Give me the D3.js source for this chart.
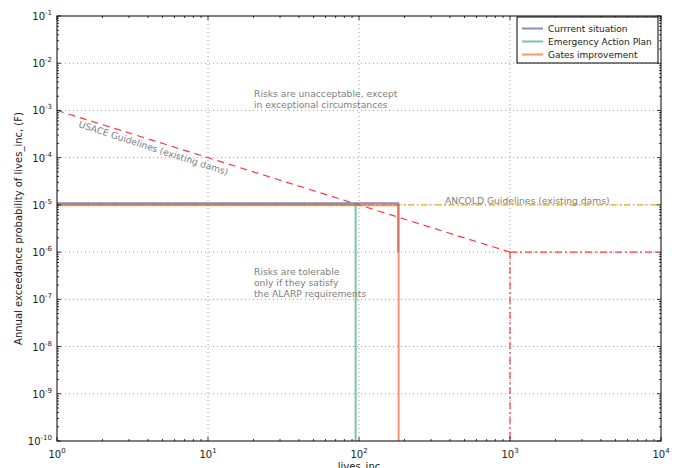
<!DOCTYPE html>
<html>
<head>
<meta charset="utf-8">
<title>F-N chart</title>
<script src="https://d3js.org/d3.v7.min.js"></script>
<style>
  body { margin: 0; background: #fff; }
  text { font-family: "DejaVu Sans", sans-serif; }
</style>
</head>
<body>
<svg id="chart" width="679" height="468"></svg>
<script>
// series: lives (x) vs annual exceedance probability (y)
var currentX = [1, 182, 182];
var currentY = [1.08e-5, 1.08e-5, 1e-6];
var emergencyX = [1, 95, 95];
var emergencyY = [1.03e-5, 1.03e-5, 1e-10];
var gatesX = [1, 183, 183];
var gatesY = [0.98e-5, 0.98e-5, 1e-10];

// guideline lines
var usaceX = [1, 1000];
var usaceY = [1e-3, 1e-6];
var usaceTailX = [1000, 10000];
var usaceTailY = [1e-6, 1e-6];
var usaceDropX = [1000, 1000];
var usaceDropY = [1e-6, 1e-10];
var ancoldX = [1, 10000];
var ancoldY = [1e-5, 1e-5];

var xTickExp = [0, 1, 2, 3, 4];
var yTickExp = [-1, -2, -3, -4, -5, -6, -7, -8, -9, -10];

var seriesNames = ['Currrent situation', 'Emergency Action Plan', 'Gates improvement'];
var colors = ['#4e5fad', '#4ca684', '#f26a3a'];

var svg = d3.select('#chart');
var pL = 57, pR = 661, pT = 16, pB = 441;

var x = d3.scaleLog().domain([1, 1e4]).range([pL, pR]);
var y = d3.scaleLog().domain([1e-10, 1e-1]).range([pB, pT]);

// minor tick values
var xMinor = [], yMinor = [];
xTickExp.slice(0, -1).forEach(function (e) {
  for (var k = 2; k < 10; k++) xMinor.push(k * Math.pow(10, e));
});
yTickExp.slice(1).forEach(function (e) {
  for (var k = 2; k < 10; k++) yMinor.push(k * Math.pow(10, e));
});

// grid
var grid = svg.append('g').attr('stroke', '#888').attr('stroke-width', 0.8)
  .attr('stroke-dasharray', '1,3');
xTickExp.slice(1, -1).forEach(function (e) {
  grid.append('line').attr('x1', x(Math.pow(10, e))).attr('x2', x(Math.pow(10, e)))
    .attr('y1', pT).attr('y2', pB);
});
yTickExp.slice(1, -1).forEach(function (e) {
  grid.append('line').attr('y1', y(Math.pow(10, e))).attr('y2', y(Math.pow(10, e)))
    .attr('x1', pL).attr('x2', pR);
});

var line = d3.line().x(function (d) { return x(d[0]); }).y(function (d) { return y(d[1]); });
function pts(xs, ys) { return xs.map(function (v, i) { return [v, ys[i]]; }); }

var plot = svg.append('g');

plot.append('path').attr('d', line(pts(ancoldX, ancoldY)))
  .attr('fill', 'none').attr('stroke', '#e2ab1c').attr('stroke-width', 1.2)
  .attr('stroke-dasharray', '6,3,1.5,3');

plot.append('path').attr('d', line(pts(usaceX, usaceY)))
  .attr('fill', 'none').attr('stroke', '#ff3b3b').attr('stroke-width', 1.2)
  .attr('stroke-dasharray', '7,5');
plot.append('path').attr('d', line(pts(usaceTailX, usaceTailY)))
  .attr('fill', 'none').attr('stroke', '#ff3b3b').attr('stroke-width', 1.2)
  .attr('stroke-dasharray', '7,3,2,3');
plot.append('path').attr('d', line(pts(usaceDropX, usaceDropY)))
  .attr('fill', 'none').attr('stroke', '#ff3b3b').attr('stroke-width', 1.2)
  .attr('stroke-dasharray', '7,3,2,3');

var series = [pts(currentX, currentY), pts(emergencyX, emergencyY), pts(gatesX, gatesY)];
series.forEach(function (s, i) {
  plot.append('path').attr('d', line(s))
    .attr('fill', 'none').attr('stroke', colors[i]).attr('stroke-width', 2)
    .attr('stroke-opacity', 0.7);
});

// annotations
var ann = svg.append('g').attr('fill', '#808080').attr('font-size', 9.2);
ann.append('text').attr('x', 254).attr('y', 97).text('Risks are unacceptable, except');
ann.append('text').attr('x', 254).attr('y', 108).text('in exceptional circumstances');
ann.append('text').attr('x', 254).attr('y', 275).text('Risks are tolerable');
ann.append('text').attr('x', 254).attr('y', 286).text('only if they satisfy');
ann.append('text').attr('x', 254).attr('y', 297).text('the ALARP requirements');
ann.append('text').attr('x', 445).attr('y', 204).text('ANCOLD Guidelines (existing dams)');
ann.append('text').attr('transform', 'translate(78,127) rotate(18)')
  .text('USACE Guidelines (existing dams)');

// frame
svg.append('rect').attr('x', pL).attr('y', pT).attr('width', pR - pL)
  .attr('height', pB - pT).attr('fill', 'none').attr('stroke', '#000').attr('stroke-width', 1);

// ticks (inward, all four sides)
var ticks = svg.append('g').attr('stroke', '#000').attr('stroke-width', 0.8);
xTickExp.forEach(function (e) {
  var px = x(Math.pow(10, e));
  ticks.append('line').attr('x1', px).attr('x2', px).attr('y1', pB).attr('y2', pB - 4);
  ticks.append('line').attr('x1', px).attr('x2', px).attr('y1', pT).attr('y2', pT + 4);
});
xMinor.forEach(function (v) {
  var px = x(v);
  ticks.append('line').attr('x1', px).attr('x2', px).attr('y1', pB).attr('y2', pB - 2);
  ticks.append('line').attr('x1', px).attr('x2', px).attr('y1', pT).attr('y2', pT + 2);
});
yTickExp.forEach(function (e) {
  var py = y(Math.pow(10, e));
  ticks.append('line').attr('y1', py).attr('y2', py).attr('x1', pL).attr('x2', pL + 4);
  ticks.append('line').attr('y1', py).attr('y2', py).attr('x1', pR).attr('x2', pR - 4);
});
yMinor.forEach(function (v) {
  var py = y(v);
  ticks.append('line').attr('y1', py).attr('y2', py).attr('x1', pL).attr('x2', pL + 2);
  ticks.append('line').attr('y1', py).attr('y2', py).attr('x1', pR).attr('x2', pR - 2);
});

// tick labels
var labels = svg.append('g').attr('fill', '#222').attr('font-size', 10);
xTickExp.forEach(function (e) {
  var t = labels.append('text').attr('x', x(Math.pow(10, e))).attr('y', 458)
    .attr('text-anchor', 'middle');
  t.append('tspan').text('10');
  t.append('tspan').attr('dy', -5).attr('font-size', 7).text(e);
});
yTickExp.forEach(function (e) {
  var t = labels.append('text').attr('x', 52).attr('y', y(Math.pow(10, e)) + 4)
    .attr('text-anchor', 'end');
  t.append('tspan').text('10');
  t.append('tspan').attr('dy', -5).attr('font-size', 7).text(e);
});

// axis titles
svg.append('text').attr('x', (pL + pR) / 2).attr('y', 470).attr('text-anchor', 'middle')
  .attr('font-size', 10).attr('fill', '#222').text('lives_inc');
svg.append('text').attr('transform', 'translate(22,' + ((pT + pB) / 2) + ') rotate(-90)')
  .attr('text-anchor', 'middle').attr('font-size', 10).attr('fill', '#222')
  .text('Annual exceedance probability of lives_inc, (F)');

// legend
var lg = svg.append('g');
lg.append('rect').attr('x', 517).attr('y', 17).attr('width', 141).attr('height', 46)
  .attr('fill', '#fff').attr('stroke', '#000').attr('stroke-width', 1);
seriesNames.forEach(function (name, i) {
  var ly = 28.5 + i * 13;
  lg.append('line').attr('x1', 522).attr('x2', 543).attr('y1', ly).attr('y2', ly)
    .attr('stroke', colors[i]).attr('stroke-width', 2).attr('stroke-opacity', 0.7);
  lg.append('text').attr('x', 548).attr('y', ly + 3.5).attr('font-size', 9)
    .attr('fill', '#222').text(name);
});
</script>
</body>
</html>
